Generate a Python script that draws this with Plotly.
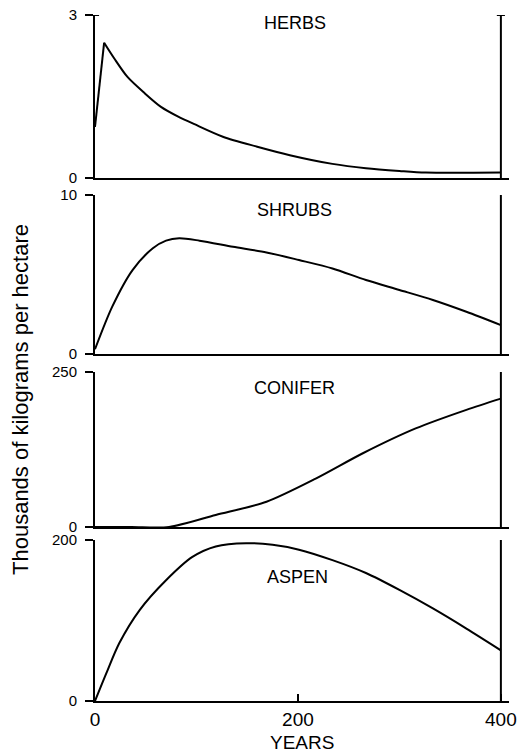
import plotly.graph_objects as go

# ---- data ----
herb_years = [0, 9, 19, 32, 49, 65, 82, 98, 126, 159, 192, 234, 267, 300, 326, 400]
herb_vals = [0.94, 2.49, 2.20, 1.86, 1.56, 1.31, 1.13, 0.99, 0.76, 0.58, 0.42, 0.26, 0.18, 0.13, 0.10, 0.10]

shrub_years = [0, 17, 37, 57, 70, 83, 103, 136, 169, 201, 234, 267, 300, 333, 366, 400]
shrub_vals = [0.3, 2.98, 5.28, 6.65, 7.13, 7.28, 7.13, 6.75, 6.39, 5.91, 5.38, 4.65, 4.03, 3.40, 2.66, 1.82]

conifer_years = [0, 36, 73, 119, 169, 218, 264, 316, 366, 400]
conifer_vals = [0, 0, 0, 19.4, 40.8, 78.5, 119, 159, 189, 207]

aspen_years = [0, 11, 24, 44, 70, 96, 119, 149, 175, 201, 234, 267, 300, 333, 366, 400]
aspen_vals = [0, 34, 72, 113, 150, 179, 192, 196, 194, 188, 175, 159, 138, 115, 90, 63]

panel_names = ["HERBS", "SHRUBS", "CONIFER", "ASPEN"]
panel_max = [3, 10, 250, 200]
x_ticks = [0, 200, 400]
label_pos = [(197, 2.85), (197, 9.06), (197, 224), (200, 154)]

series = [(herb_years, herb_vals), (shrub_years, shrub_vals),
          (conifer_years, conifer_vals), (aspen_years, aspen_vals)]

FONT = "Liberation Sans, Arial, Helvetica, sans-serif"
domains = [[0.7624, 1.0], [0.5058, 0.7376], [0.2536, 0.4796], [0.0, 0.2347]]

fig = go.Figure()
layout = dict(
    width=517, height=745,
    margin=dict(l=87, r=16, t=7, b=52, autoexpand=False),
    paper_bgcolor="white", plot_bgcolor="white",
    showlegend=False,
    font=dict(family=FONT, color="black"),
)
annotations = []
shapes = []
for i, ((xs, ys), name, ymax, dom, lp) in enumerate(zip(series, panel_names, panel_max, domains, label_pos)):
    n = i + 1
    xa = "x" if n == 1 else f"x{n}"
    ya = "y" if n == 1 else f"y{n}"
    if n == 1:
        # sharp initial rise (straight) followed by smooth decay
        fig.add_trace(go.Scatter(x=xs[:2], y=ys[:2], mode="lines", xaxis=xa, yaxis=ya,
                                 line=dict(color="black", width=2), hoverinfo="skip"))
        fig.add_trace(go.Scatter(x=xs[1:], y=ys[1:], mode="lines", xaxis=xa, yaxis=ya,
                                 line=dict(color="black", width=2, shape="spline", smoothing=0.8),
                                 hoverinfo="skip"))
    else:
        fig.add_trace(go.Scatter(x=xs, y=ys, mode="lines", xaxis=xa, yaxis=ya,
                                 line=dict(color="black", width=2, shape="spline", smoothing=0.8),
                                 hoverinfo="skip"))
    last = (n == 4)
    layout["xaxis" if n == 1 else f"xaxis{n}"] = dict(
        domain=[0, 1], anchor=ya, range=[0, 408], automargin=False,
        showline=True, linecolor="black", linewidth=2,
        showgrid=False, zeroline=False,
        tickvals=x_ticks if last else [],
        ticks="inside" if last else "", ticklen=7, tickwidth=1.5, tickcolor="black",
        showticklabels=last, tickfont=dict(size=19, family=FONT),
        ticklabeloverflow="allow",
        **({} if n == 1 else {"matches": "x"}),
    )
    layout["yaxis" if n == 1 else f"yaxis{n}"] = dict(
        domain=dom, anchor=xa, range=[0, ymax], automargin=False,
        showline=True, linecolor="black", linewidth=2,
        showgrid=False, zeroline=False,
        tickvals=[0, ymax], ticks="outside", ticklen=8, tickwidth=2, tickcolor="black",
        tickfont=dict(size=15, family=FONT), ticklabelstandoff=5,
        ticklabeloverflow="allow",
    )
    annotations.append(dict(x=lp[0], y=lp[1], xref=xa, yref=ya, text=name, showarrow=False,
                            font=dict(size=18, family=FONT), xanchor="center", yanchor="middle"))
    # right-hand vertical line at 400 years
    shapes.append(dict(type="line", xref=xa, yref=ya, x0=400, x1=400, y0=0, y1=ymax,
                       line=dict(color="black", width=2)))

# small caps on HERBS panel top
shapes.append(dict(type="line", xref="x", yref="y", x0=396, x1=404, y0=3, y1=3,
                   line=dict(color="black", width=2)))
shapes.append(dict(type="line", xref="x", yref="y", x0=0, x1=4, y0=3, y1=3,
                   line=dict(color="black", width=2)))

annotations.append(dict(x=0.5, y=-0.0612, xref="paper", yref="paper", text="YEARS",
                        showarrow=False, font=dict(size=19, family=FONT),
                        xanchor="center", yanchor="middle"))
annotations.append(dict(x=-0.1787, y=0.4388, xref="paper", yref="paper",
                        text="Thousands of kilograms per hectare", textangle=-90,
                        showarrow=False, font=dict(size=22, family=FONT),
                        xanchor="center", yanchor="middle"))
layout["annotations"] = annotations
layout["shapes"] = shapes
fig.update_layout(**layout)
fig.write_html("out.html")
